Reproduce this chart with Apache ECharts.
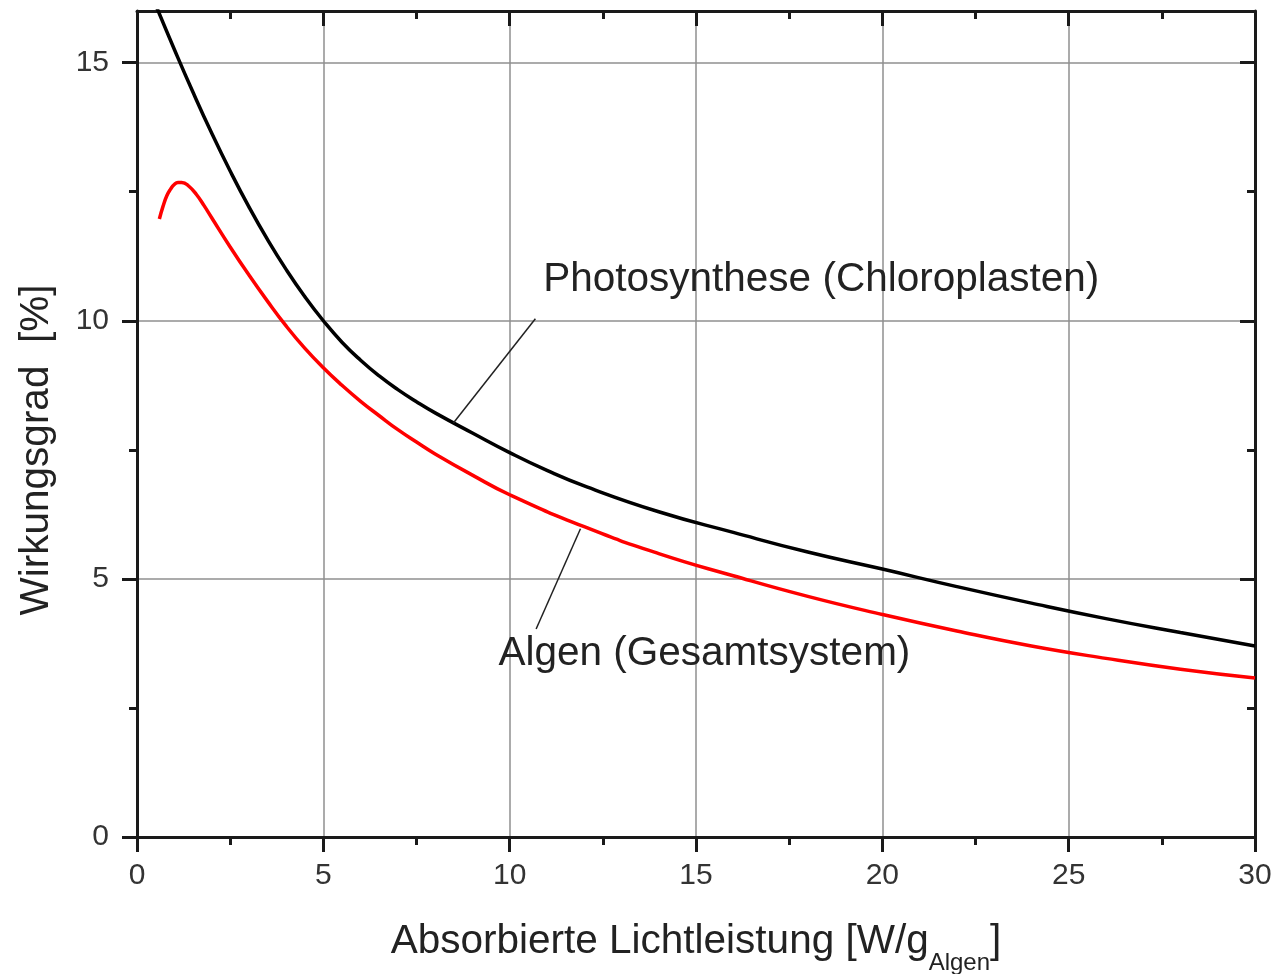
<!DOCTYPE html>
<html>
<head>
<meta charset="utf-8">
<script src="https://cdn.jsdelivr.net/npm/echarts@6/dist/echarts.min.js"></script>
<style>
html,body{margin:0;padding:0;background:#fff;}
#c{width:1275px;height:974px;}
</style>
</head>
<body>
<div id="c"></div>
<script>
// ---- data ----
const yTickValues = [0, 5, 10, 15];
const photoX = [0.5, 1, 1.5, 2, 2.5, 3, 3.5, 4, 4.5, 5, 5.5, 6, 6.5, 7, 7.5, 8, 9, 10, 11, 12, 14, 16, 18, 20, 22, 24, 26, 28, 30];
const photoY = [16.12, 15.26, 14.43, 13.64, 12.9, 12.21, 11.575, 10.995, 10.47, 10.0, 9.585, 9.235, 8.93, 8.665, 8.43, 8.215, 7.825, 7.445, 7.1, 6.8, 6.3, 5.9, 5.52, 5.19, 4.85, 4.53, 4.23, 3.96, 3.70];
const algenX = [0.6, 0.7, 0.8, 0.9, 1.0, 1.1, 1.2, 1.4, 1.6, 1.8, 2, 2.5, 3, 3.5, 4, 4.5, 5, 5.5, 6, 6.5, 7, 7.5, 8, 9, 10, 12, 14, 16, 18, 20, 22, 24, 26, 28, 30];
const algenY = [11.97, 12.22, 12.42, 12.55, 12.64, 12.68, 12.68, 12.6, 12.44, 12.23, 12.0, 11.43, 10.89, 10.38, 9.9, 9.47, 9.09, 8.75, 8.44, 8.16, 7.89, 7.65, 7.42, 7.01, 6.63, 6.01, 5.49, 5.06, 4.66, 4.31, 3.99, 3.7, 3.46, 3.25, 3.08];
const photoLabel = 'Photosynthese (Chloroplasten)';
const algenLabel = 'Algen (Gesamtsystem)';
const photoLabelAt = [10.9, 10.79];
const algenLabelAt = [9.7, 3.55];
const photoLeader = [[10.69, 10.04], [8.49, 8.02]];
const algenLeader = [[11.9, 5.97], [10.71, 4.03]];
const xName = '{m|Absorbierte Lichtleistung [W/g}{s|Algen}{m|]}';
const yName = 'Wirkungsgrad  [%]';

const FONT = 'Liberation Sans, Arial, Helvetica, sans-serif';
const AX = '#1a1a1a';
const pairs = (xs, ys) => xs.map((x, i) => [x, ys[i]]);

const chart = echarts.init(document.getElementById('c'), null, {renderer: 'canvas'});

const axisLine = {show: true, onZero: false, lineStyle: {color: AX, width: 3}};
const tickStyle = {color: AX, width: 3};
const labelStyle = {fontFamily: FONT, fontSize: 30, color: '#333'};

const option = {
  animation: false,
  backgroundColor: '#fff',
  grid: {left: 137, right: 20, top: 11, bottom: 137, containLabel: false, outerBoundsMode: 'none'},
  xAxis: [
    {
      type: 'value', min: 0, max: 30, interval: 5, position: 'bottom',
      axisLine: axisLine,
      axisTick: {show: true, inside: false, length: 15, lineStyle: tickStyle},
      minorTick: {show: true, splitNumber: 2, length: 8, lineStyle: tickStyle},
      axisLabel: Object.assign({margin: 24}, labelStyle),
      splitLine: {show: true, lineStyle: {color: '#8f8f8f', width: 1.5}},
      name: xName, nameLocation: 'middle', nameGap: 84,
      nameTextStyle: {
        fontFamily: FONT, color: '#222',
        rich: {
          m: {fontFamily: FONT, fontSize: 40.5, lineHeight: 48, color: '#222', verticalAlign: 'top'},
          s: {fontFamily: FONT, fontSize: 24, lineHeight: 24, color: '#222', verticalAlign: 'top', padding: [30, 0, 0, 0]}
        }
      }
    },
    {
      type: 'value', min: 0, max: 30, interval: 5, position: 'top',
      axisLine: axisLine,
      axisTick: {show: true, inside: true, length: 15, lineStyle: tickStyle},
      minorTick: {show: true, splitNumber: 2, length: 8, lineStyle: tickStyle},
      axisLabel: {show: false},
      splitLine: {show: false}
    }
  ],
  yAxis: [
    {
      type: 'value', min: 0, max: 16, interval: 5, position: 'left',
      axisLine: axisLine,
      axisTick: {show: true, inside: false, length: 15, lineStyle: tickStyle, customValues: yTickValues},
      minorTick: {show: true, splitNumber: 2, length: 8, lineStyle: tickStyle},
      axisLabel: Object.assign({margin: 28, customValues: yTickValues}, labelStyle),
      splitLine: {show: true, lineStyle: {color: '#8f8f8f', width: 1.5}}
    },
    {
      type: 'value', min: 0, max: 16, interval: 5, position: 'right',
      axisLine: axisLine,
      axisTick: {show: true, inside: true, length: 15, lineStyle: tickStyle, customValues: yTickValues},
      minorTick: {show: true, splitNumber: 2, length: 8, lineStyle: tickStyle},
      axisLabel: {show: false},
      splitLine: {show: false}
    }
  ],
  graphic: [
    {
      type: 'text', x: 37, y: 450, rotation: Math.PI / 2, silent: true,
      style: {text: yName, font: '40.5px ' + FONT, fill: '#222', textAlign: 'center', textVerticalAlign: 'middle'}
    }
  ],
  series: [
    {
      type: 'line', name: 'Photosynthese', xAxisIndex: 0, yAxisIndex: 0,
      data: pairs(photoX, photoY), smooth: 0.5, symbol: 'none', clip: true,
      lineStyle: {color: '#000', width: 3.5},
      markLine: {
        silent: true, symbol: ['none', 'none'], label: {show: false},
        lineStyle: {color: '#222', width: 1.5, type: 'solid'},
        data: [[{coord: photoLeader[0]}, {coord: photoLeader[1]}]]
      },
      markPoint: {
        silent: true, symbol: 'circle', symbolSize: 0,
        data: [{coord: photoLabelAt, label: {show: true, position: 'right', distance: 0, formatter: photoLabel, fontFamily: FONT, fontSize: 40.5, color: '#222'}}]
      }
    },
    {
      type: 'line', name: 'Algen', xAxisIndex: 0, yAxisIndex: 0,
      data: pairs(algenX, algenY), smooth: 0.5, symbol: 'none', clip: true,
      lineStyle: {color: '#ff0000', width: 3.5},
      markLine: {
        silent: true, symbol: ['none', 'none'], label: {show: false},
        lineStyle: {color: '#222', width: 1.5, type: 'solid'},
        data: [[{coord: algenLeader[0]}, {coord: algenLeader[1]}]]
      },
      markPoint: {
        silent: true, symbol: 'circle', symbolSize: 0,
        data: [{coord: algenLabelAt, label: {show: true, position: 'right', distance: 0, formatter: algenLabel, fontFamily: FONT, fontSize: 40.5, color: '#222'}}]
      }
    }
  ]
};
chart.setOption(option);
</script>
</body>
</html>
